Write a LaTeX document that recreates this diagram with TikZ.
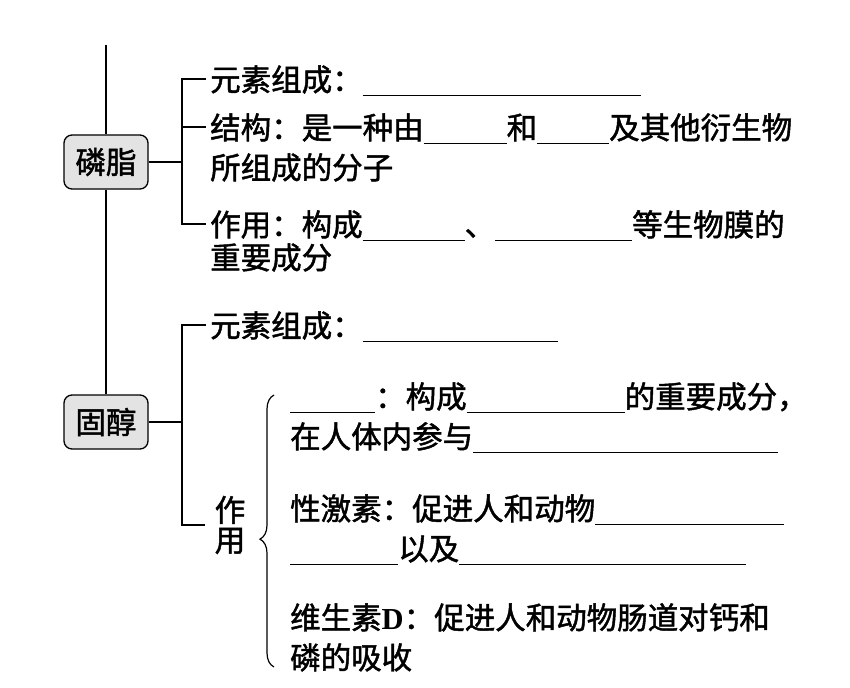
\documentclass[tikz,border=0pt]{standalone}
\usepackage{fontspec}
\setmainfont{Liberation Serif}
\newfontfamily\cjk[FakeBold=1.5]{Noto Sans CJK SC}
\usetikzlibrary{positioning,decorations.pathreplacing}
\newcommand{\blank}[1]{\rule[-0.17em]{#1pt}{1pt}}

\begin{document}
\begin{tikzpicture}[
    x=1pt, y=-1pt,
    topic/.style={draw, line width=1.3pt, rounded corners=8pt, fill=gray!22, minimum width=84pt, minimum height=54pt, inner sep=0pt, font=\cjk\fontsize{30.5}{30.5}\selectfont},
    item/.style={anchor=base west, inner sep=4pt, align=left, font=\cjk\fontsize{30.5}{40}\selectfont},
    link/.style={line width=1.2pt}
]
\fill[white] (0,0) rectangle (850,687);
\useasboundingbox (0,0) rectangle (850,687);

% two main topics on the stem
\coordinate (stem) at (106,45);
\node[topic] (pl) at (106,162) {磷脂};
\node[topic] (gc) at (106,422) {固醇};
\draw[link] (stem) -- (pl.north);
\draw[link] (pl.south) -- (gc.north);

% phospholipid branch (base = last line)
\node[item] (pl1) at (206,91) {元素组成：\blank{278}};
\node[item] (pl2) at (206,179) {结构：是一种由\blank{83}和\blank{72}及其他衍生物\\所组成的分子};
\node[item] (pl3) at (206,269) {作用：构成\blank{102}、\blank{137}等生物膜的\\[-7pt]重要成分};
\coordinate (plf) at (182,162);
\draw[link] (pl.east) -- (plf);
\draw[link] ([yshift=12pt]pl1.base west) -| (plf) |- ([yshift=45pt]pl3.base west);
\draw[link] (plf) |- ([yshift=52pt]pl2.base west);

% sterol branch
\node[item] (gc1) at (206,337) {元素组成：\blank{195}};
\node[item, anchor=center, inner sep=10pt, align=center, font=\cjk\fontsize{30.5}{30}\selectfont] (use) at (230,525) {作\\用};
\coordinate (gcf) at (182,422);
\draw[link] (gc.east) -- (gcf);
\draw[link] ([yshift=12pt]gc1.base west) -| (gcf) |- (use.west);

% functions of sterols
\node[item] (ch) at (286,448) {\blank{85}：构成\blank{158}的重要成分，\\在人体内参与\blank{305}};
\node[item] (sh) at (286,560) {性激素：促进人和动物\blank{189}\\\blank{108}以及\blank{287}};
\node[item] (vd) at (286,669) {维生素{\rmfamily\bfseries D}：促进人和动物肠道对钙和\\磷的吸收};
\coordinate (bt) at (274,395);
\coordinate (bb) at (274,667);
\draw[link, decorate, decoration={brace, amplitude=14pt, aspect=0.47}] (bb) -- (bt);
\end{tikzpicture}
\end{document}
